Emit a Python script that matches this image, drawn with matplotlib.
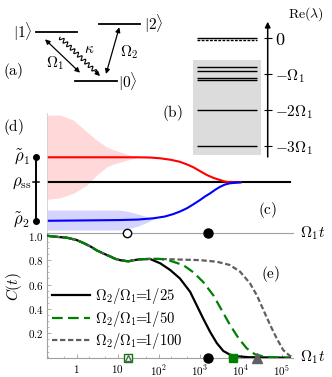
import numpy as np
import matplotlib
matplotlib.use('Agg')
from matplotlib import pyplot as plt
from matplotlib import transforms as mtransforms
from matplotlib.patches import Rectangle
from matplotlib.ticker import LogLocator, NullLocator, MultipleLocator

plt.rcParams['mathtext.fontset'] = 'cm'
plt.rcParams['font.family'] = ['DejaVu Serif']

# ---- (b) spectrum, Re(lambda) in units of Omega_1
eig_solid = [0.0, -0.80, -0.92, -1.12, -1.17, -2.0, -3.0]
eig_dashed = [-0.07]
band_top, band_bottom = -0.61, -3.25
spec_ticks = [0, -1, -2, -3]
spec_labels = [r'$0$', r'$-\Omega_1$', r'$-2\Omega_1$', r'$-3\Omega_1$']

# ---- (c) trajectories, x = log10(Omega_1 t), y relative to rho_ss
rho1, rho2 = 1.0, -1.53
lt_red = [-0.73, 1.5, 1.8, 2.04, 2.3, 2.52, 2.7, 2.85, 3.02, 3.18, 3.35, 3.5, 3.62, 3.74, 4.0]
red = [1.0, 1.0, 0.99, 0.96, 0.90, 0.82, 0.71, 0.60, 0.44, 0.29, 0.17, 0.09, 0.03, 0.0, 0.0]
lt_blue = [-0.73, 1.06, 1.5, 1.87, 2.15, 2.36, 2.52, 2.69, 2.85, 3.01, 3.13, 3.26, 3.38, 3.5,
           3.62, 3.74, 4.0]
blue = [-1.54, -1.51, -1.49, -1.44, -1.37, -1.27, -1.17, -1.04, -0.88, -0.71, -0.57, -0.44,
        -0.30, -0.18, -0.09, -0.04, 0.0]
lt_red_band = [-0.73, -0.40, -0.08, 0.25, 0.49, 0.74, 0.90, 1.06, 1.22, 1.39, 1.55]
red_hi = [2.69, 2.69, 2.49, 2.02, 1.69, 1.41, 1.30, 1.22, 1.12, 1.05, 1.0]
red_lo = [-0.68, -0.62, -0.44, -0.11, 0.29, 0.62, 0.73, 0.80, 0.88, 0.95, 1.0]
lt_blue_band = [-0.73, 1.0, 1.22, 1.5, 1.75, 1.9]
blue_hi = [-1.11, -1.11, -1.15, -1.27, -1.39, -1.45]
blue_lo = [-1.91, -1.91, -1.87, -1.75, -1.58, -1.45]
lt_rho_ss = [-0.73, 5.2]
lt_marks_c = [1.24, 3.21]

# ---- (e) C(t)
lt_common = [-0.73, -0.45, -0.24, 0.0, 0.17, 0.35, 0.49, 0.65, 0.82, 0.95, 1.06, 1.26, 1.4,
             1.55, 1.79]
c_common = [1.0, 0.99, 0.984, 0.965, 0.94, 0.91, 0.88, 0.855, 0.83, 0.81, 0.80, 0.79, 0.80,
            0.807, 0.81]
lt_25 = [2.04, 2.28, 2.52, 2.77, 2.93, 3.09, 3.26, 3.42, 3.58, 3.74, 3.9, 4.2, 5.2]
c_25 = [0.774, 0.72, 0.65, 0.54, 0.43, 0.32, 0.21, 0.12, 0.055, 0.025, 0.012, 0.004, 0.0]
lt_50 = [2.04, 2.28, 2.6, 2.85, 3.09, 3.34, 3.54, 3.74, 3.95, 4.15, 4.35, 4.56, 4.8, 5.2]
c_50 = [0.81, 0.795, 0.76, 0.70, 0.62, 0.51, 0.39, 0.27, 0.16, 0.077, 0.028, 0.01, 0.003, 0.0]
lt_100 = [2.04, 2.5, 3.01, 3.42, 3.74, 3.99, 4.23, 4.4, 4.56, 4.72, 4.88, 5.04, 5.2, 5.28]
c_100 = [0.81, 0.805, 0.80, 0.787, 0.76, 0.705, 0.61, 0.51, 0.39, 0.27, 0.16, 0.063, 0.016,
         0.005]
ratio_labels = [r'$\Omega_2/\Omega_1\!\!=\!\!1/25$', r'$\Omega_2/\Omega_1\!\!=\!\!1/50$',
                r'$\Omega_2/\Omega_1\!\!=\!\!1/100$']
lt_mark_open = 1.25
lt_mark_25, lt_mark_50, lt_mark_100 = 3.21, 3.82, 4.41
xticks_e = [1, 10, 1e2, 1e3, 1e4, 1e5]
xtick_labels = [r'$1$', r'$10$', r'$10^{2}$', r'$10^{3}$', r'$10^{4}$', r'$10^{5}$']

W, H = 332, 377
GREEN = '#008000'
GRAY = '#606060'
AXGRAY = '#a0a0a0'


def box(x0, y0, x1, y1):
    return [x0 / W, 1 - y1 / H, (x1 - x0) / W, (y1 - y0) / H]


def pw(v):
    return np.power(10.0, np.asarray(v, dtype=float))


fig = plt.figure(figsize=(W / 100, H / 100), dpi=100)

# overlay in pixel coordinates for the schematic and labels
ax0 = fig.add_axes([0, 0, 1, 1])
ax0.set_xlim(0, W)
ax0.set_ylim(H, 0)
ax0.axis('off')

# (a) level scheme
ax0.plot([36, 77], [32.3, 32.3], 'k-', lw=1.3)
ax0.plot([99, 140], [24, 24], 'k-', lw=1.3)
ax0.plot([75, 117], [81, 81], 'k-', lw=1.3)
ax0.text(23, 32.3, r'$|1\rangle$', fontsize=11, ha='center', va='center')
ax0.text(154, 24, r'$|2\rangle$', fontsize=11, ha='center', va='center')
ax0.text(128, 81.5, r'$|0\rangle$', fontsize=11, ha='center', va='center')
dbl = dict(arrowstyle='<|-|>', color='k', lw=0.9, mutation_scale=7, shrinkA=0, shrinkB=0)
ax0.annotate('', xy=(80, 72.7), xytext=(45, 39.3), arrowprops=dbl)
ax0.annotate('', xy=(106, 74), xytext=(119.3, 27.3), arrowprops=dbl)
p0 = np.array([60.0, 37.3])
p1 = np.array([100.0, 76.0])
d = p1 - p0
L = np.hypot(*d)
u = d / L
nrm = np.array([-u[1], u[0]])
s = np.linspace(0, L - 6, 400)
wig = 2.0 * np.sin(2 * np.pi * s / 5.0)
pts = p0 + np.outer(s, u) + np.outer(wig, nrm)
ax0.plot(pts[:, 0], pts[:, 1], 'k-', lw=0.8)
ax0.annotate('', xy=p1, xytext=p0 + (L - 7) * u,
             arrowprops=dict(arrowstyle='-|>', color='k', lw=0.8, mutation_scale=7,
                             shrinkA=0, shrinkB=0))
ax0.text(89, 49, r'$\kappa$', fontsize=11, ha='center', va='center')
ax0.text(55, 63, r'$\Omega_1$', fontsize=11, ha='center', va='center')
ax0.text(129, 52, r'$\Omega_2$', fontsize=11, ha='center', va='center')
ax0.text(13, 71, r'$\mathrm{(a)}$', fontsize=11, ha='center', va='center')
ax0.text(172, 113, r'$\mathrm{(b)}$', fontsize=11, ha='center', va='center')
ax0.text(288, 14, r'$\mathrm{Re}(\lambda)$', fontsize=10, ha='left', va='center')
ax0.text(13, 127, r'$\mathrm{(d)}$', fontsize=11, ha='center', va='center')
ax0.text(268, 210, r'$\mathrm{(c)}$', fontsize=11, ha='center', va='center')
ax0.text(271, 274, r'$\mathrm{(e)}$', fontsize=11, ha='center', va='center')
ax0.text(300, 233, r'$\Omega_1 t$', fontsize=11, ha='left', va='center')
ax0.text(300, 357.7, r'$\Omega_1 t$', fontsize=11, ha='left', va='center')
ax0.text(14, 287, r'$C(t)$', fontsize=11, ha='center', va='center', rotation=90)

# (b) spectrum
axb = fig.add_axes(box(190, 21.7, 267.7, 157))
axb.set_facecolor('none')
axb.set_xlim(0, 1)
axb.set_ylim(-3.3, 0.45)
axb.add_patch(Rectangle((0.042, band_bottom), 0.878, band_top - band_bottom,
                        color='#dcdcdc', lw=0, zorder=0))
axb.hlines(eig_solid, 0.086, 0.859, colors='k', lw=1.0, zorder=2)
axb.hlines(eig_dashed, 0.086, 0.859, colors='k', lw=1.0, linestyles=(0, (2, 1)), zorder=2)
for sp in axb.spines.values():
    sp.set_visible(False)
axb.set_xticks([])
axb.yaxis.tick_right()
axb.set_yticks(spec_ticks)
axb.set_yticklabels(spec_labels)
axb.tick_params(axis='y', direction='inout', length=6, width=0.8, pad=2, labelsize=11)
axb.get_yticklabels()[0].set_fontsize(13)
trb = mtransforms.blended_transform_factory(axb.transAxes, axb.transData)
axb.annotate('', xy=(1, 0.45), xytext=(1, -3.3), xycoords=trb, textcoords=trb,
             arrowprops=dict(arrowstyle='-|>', color='k', lw=1.1, mutation_scale=8,
                             shrinkA=0, shrinkB=0), annotation_clip=False)

# (c) trajectories
xlim = (10 ** -0.73, 10 ** 5.28)
axc = fig.add_axes(box(46.7, 113, 293, 232.7))
axc.set_facecolor('none')
axc.set_xscale('log')
axc.set_xlim(*xlim)
axc.set_ylim(-2.016, 2.772)
axc.fill_between(pw(lt_red_band), red_lo, red_hi, color='#ffd9d9', lw=0)
axc.fill_between(pw(lt_blue_band), blue_lo, blue_hi, color='#d4d4ff', lw=0)
axc.plot(pw(lt_rho_ss), [0, 0], 'k-', lw=1.5)
axc.plot(pw(lt_red), red, '-', color='#ff0000', lw=1.5)
axc.plot(pw(lt_blue), blue, '-', color='#0000ff', lw=1.5)
for sp in ('top', 'right'):
    axc.spines[sp].set_visible(False)
axc.spines['left'].set_color('#d0d0d0')
axc.spines['left'].set_linewidth(0.6)
axc.spines['bottom'].set_color(AXGRAY)
axc.spines['bottom'].set_linewidth(0.8)
axc.set_xticks([])
axc.xaxis.set_minor_locator(NullLocator())
axc.set_yticks([])
trc = mtransforms.blended_transform_factory(axc.transAxes, axc.transData)
axc.plot([-0.043, -0.043], [rho1, rho2], 'k-', lw=1.4, marker='o', ms=4,
         transform=trc, clip_on=False)
axc.plot([-0.056, -0.030], [0, 0], 'k-', lw=1.1, transform=trc, clip_on=False)
axc.text(-0.068, rho1, r'$\tilde{\rho}_1$', transform=trc, fontsize=12, ha='right', va='center')
axc.text(-0.060, 0, r'$\rho_{\rm ss}$', transform=trc, fontsize=12, ha='right', va='center')
axc.text(-0.068, rho2, r'$\tilde{\rho}_2$', transform=trc, fontsize=12, ha='right', va='center')
trc2 = mtransforms.blended_transform_factory(axc.transData, axc.transAxes)
axc.plot(pw([lt_marks_c[0]]), [0], 'o', mfc='white', mec='k', mew=1.0, ms=6,
         transform=trc2, clip_on=False, zorder=5)
axc.plot(pw([lt_marks_c[1]]), [0], 'o', color='k', ms=6.5,
         transform=trc2, clip_on=False, zorder=5)

# (e) C(t)
axe = fig.add_axes(box(46.7, 232.7, 293, 357.7))
axe.set_facecolor('none')
axe.set_xscale('log')
axe.set_xlim(*xlim)
axe.set_ylim(0, 1.025)
t25 = pw(lt_common + lt_25)
t50 = pw(lt_common + lt_50)
t100 = pw(lt_common + lt_100)
axe.plot(t25, c_common + c_25, '-', color='k', lw=1.6, label=ratio_labels[0], zorder=3)
l100, = axe.plot(t100, c_common + c_100, color=GRAY, lw=1.6, dashes=(2.4, 1.2),
                 label=ratio_labels[2], zorder=4)
l50, = axe.plot(t50, c_common + c_50, color=GREEN, lw=1.6, dashes=(4.8, 2.4),
                label=ratio_labels[1], zorder=5)
handles, labels = axe.get_legend_handles_labels()
order = [0, 2, 1]
axe.legend([handles[i] for i in order], [labels[i] for i in order], loc='upper left',
           bbox_to_anchor=(0.02, 0.57), frameon=False, fontsize=10.5, handlelength=2.6,
           handletextpad=0.35, labelspacing=0.15, borderpad=0, borderaxespad=0)
for sp in ('top', 'right'):
    axe.spines[sp].set_visible(False)
for sp in ('left', 'bottom'):
    axe.spines[sp].set_color(AXGRAY)
    axe.spines[sp].set_linewidth(0.8)
axe.set_yticks([0.2, 0.4, 0.6, 0.8, 1.0])
axe.set_yticklabels([r'$0.2$', r'$0.4$', r'$0.6$', r'$0.8$', r'$1.0$'])
axe.yaxis.set_minor_locator(MultipleLocator(0.05))
axe.set_xticks(xticks_e)
axe.set_xticklabels(xtick_labels)
axe.xaxis.set_minor_locator(LogLocator(base=10, subs=(2, 5)))
axe.tick_params(which='both', direction='in', color=AXGRAY, labelsize=8)
axe.tick_params(which='major', length=3, width=0.6, pad=2)
axe.tick_params(which='minor', length=1.5, width=0.5)
axe.tick_params(axis='x', which='major', pad=4)
axe.tick_params(axis='x', which='minor', labelbottom=False)

axe.plot([10 ** lt_mark_open], [0], 's', mfc='white', mec=GREEN, mew=1.0, ms=6,
         clip_on=False, zorder=6)
axe.plot([10 ** lt_mark_open], [0], '^', mfc='none', mec=GRAY, mew=1.0, ms=5,
         clip_on=False, zorder=7)
axe.plot([10 ** lt_mark_25], [0], 'o', color='k', ms=6.5, clip_on=False, zorder=6)
axe.plot([10 ** lt_mark_50], [0], 's', color=GREEN, ms=6, clip_on=False, zorder=6)
axe.plot([10 ** lt_mark_100], [0], '^', color=GRAY, ms=6.5, clip_on=False, zorder=6)

fig.savefig('out.png', dpi=100)
